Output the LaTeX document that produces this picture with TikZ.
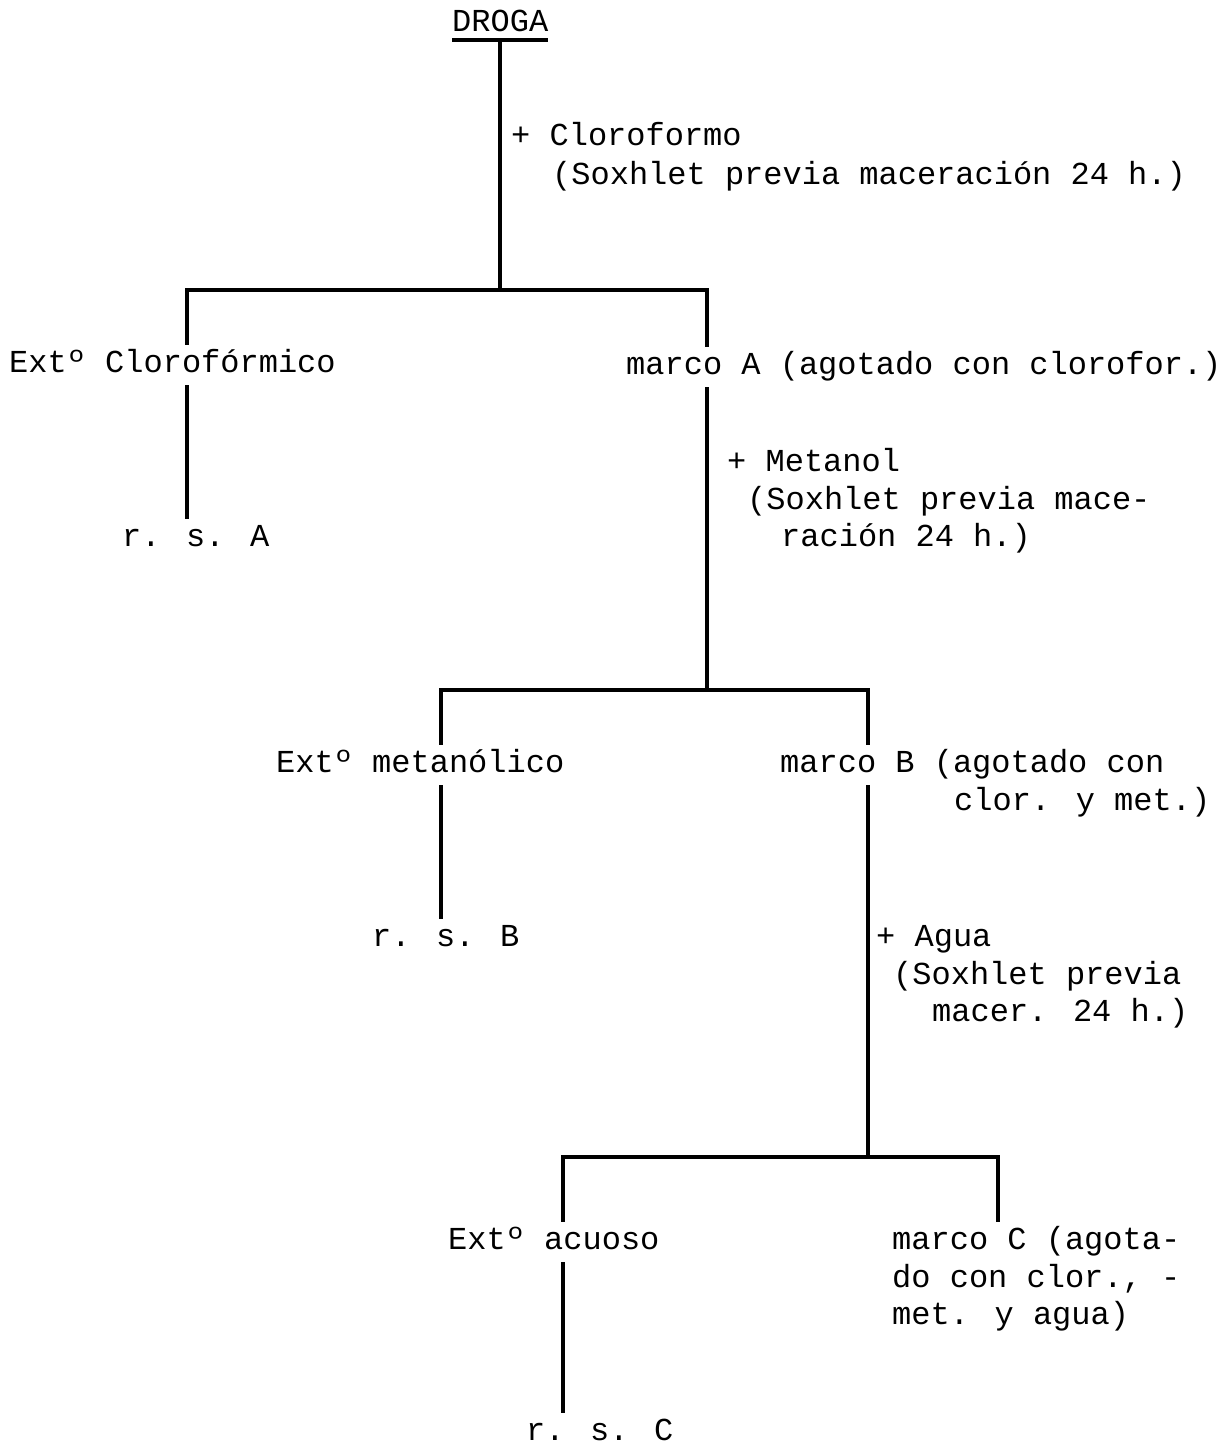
\documentclass[tikz,border=0pt]{standalone}
\usepackage{fontspec}
\setmainfont{Liberation Mono}
\begin{document}
\begin{tikzpicture}[x=1pt,y=-1pt,
  txt/.style={anchor=base west,inner sep=0pt,text height=28pt,text depth=14pt,font=\fontsize{32}{38}\selectfont},
  ln/.style={line width=3.2pt,line cap=rect}]
\useasboundingbox (0,0) rectangle (1230,1455);
% texts
\node[txt] (droga) at (452,32) {DROGA};
\node[txt] (cl1) at (511,146) {+ Cloroformo};
\node[txt] (cl2) at (552,185) {(Soxhlet previa maceración 24 h.)};
\node[txt] (extA) at (9,372) {Extº Clorofórmico};
\node[txt] (marcoA) at (626,374) {marco A (agotado con clorofor.)};
\node[txt] (rsA) at (122,546) {r. s. A};
\node[txt] (me1) at (727,471) {+ Metanol};
\node[txt] (me2) at (747,509) {(Soxhlet previa mace-};
\node[txt] (me3) at (781,546) {ración 24 h.)};
\node[txt] (extB) at (276,772) {Extº metanólico};
\node[txt] (marcoB1) at (780,772) {marco B (agotado con};
\node[txt] (marcoB2) at (954,810) {clor. y met.)};
\node[txt] (rsB) at (372,946) {r. s. B};
\node[txt] (ag1) at (876,946) {+ Agua};
\node[txt] (ag2) at (893,984) {(Soxhlet previa};
\node[txt] (ag3) at (932,1021) {macer. 24 h.)};
\node[txt] (extC) at (448,1249) {Extº acuoso};
\node[txt] (marcoC1) at (892,1249) {marco C (agota-};
\node[txt] (marcoC2) at (892,1287) {do con clor., -};
\node[txt] (marcoC3) at (892,1324) {met. y agua)};
\node[txt] (rsC) at (526,1440) {r. s. C};
% coordinates
\coordinate (u) at (500,40);
\coordinate (b1) at (500,290);
\coordinate (b1L) at (187,290);
\coordinate (b1R) at (707,290);
\coordinate (b2) at (707,690);
\coordinate (b2L) at (441,690);
\coordinate (b2R) at (868,690);
\coordinate (b3) at (868,1157);
\coordinate (b3L) at (563,1157);
\coordinate (b3R) at (998,1157);
% underline
\draw[line width=3.8pt] ([yshift=-8pt]droga.base west) -- ([yshift=-8pt]droga.base east);
% connectors
\draw[ln] (u) -- (b1);
\draw[ln] (b1L) -- (b1R);
\draw[ln] (b1L) -- (b1L |- extA.north);
\draw[ln] (b1L |- extA.south) -- (b1L |- rsA.north);
\draw[ln] (b1R) -- (b1R |- marcoA.north);
\draw[ln] (b1R |- marcoA.south) -- (b2);
\draw[ln] (b2L) -- (b2R);
\draw[ln] (b2L) -- (b2L |- extB.north);
\draw[ln] (b2L |- extB.south) -- (b2L |- rsB.north);
\draw[ln] (b2R) -- (b2R |- marcoB1.north);
\draw[ln] (b2R |- marcoB1.south) -- (b3);
\draw[ln] (b3L) -- (b3R);
\draw[ln] (b3L) -- (b3L |- extC.north);
\draw[ln] (b3L |- extC.south) -- (b3L |- rsC.north);
\draw[ln] (b3R) -- (b3R |- marcoC1.north);
\end{tikzpicture}
\end{document}
